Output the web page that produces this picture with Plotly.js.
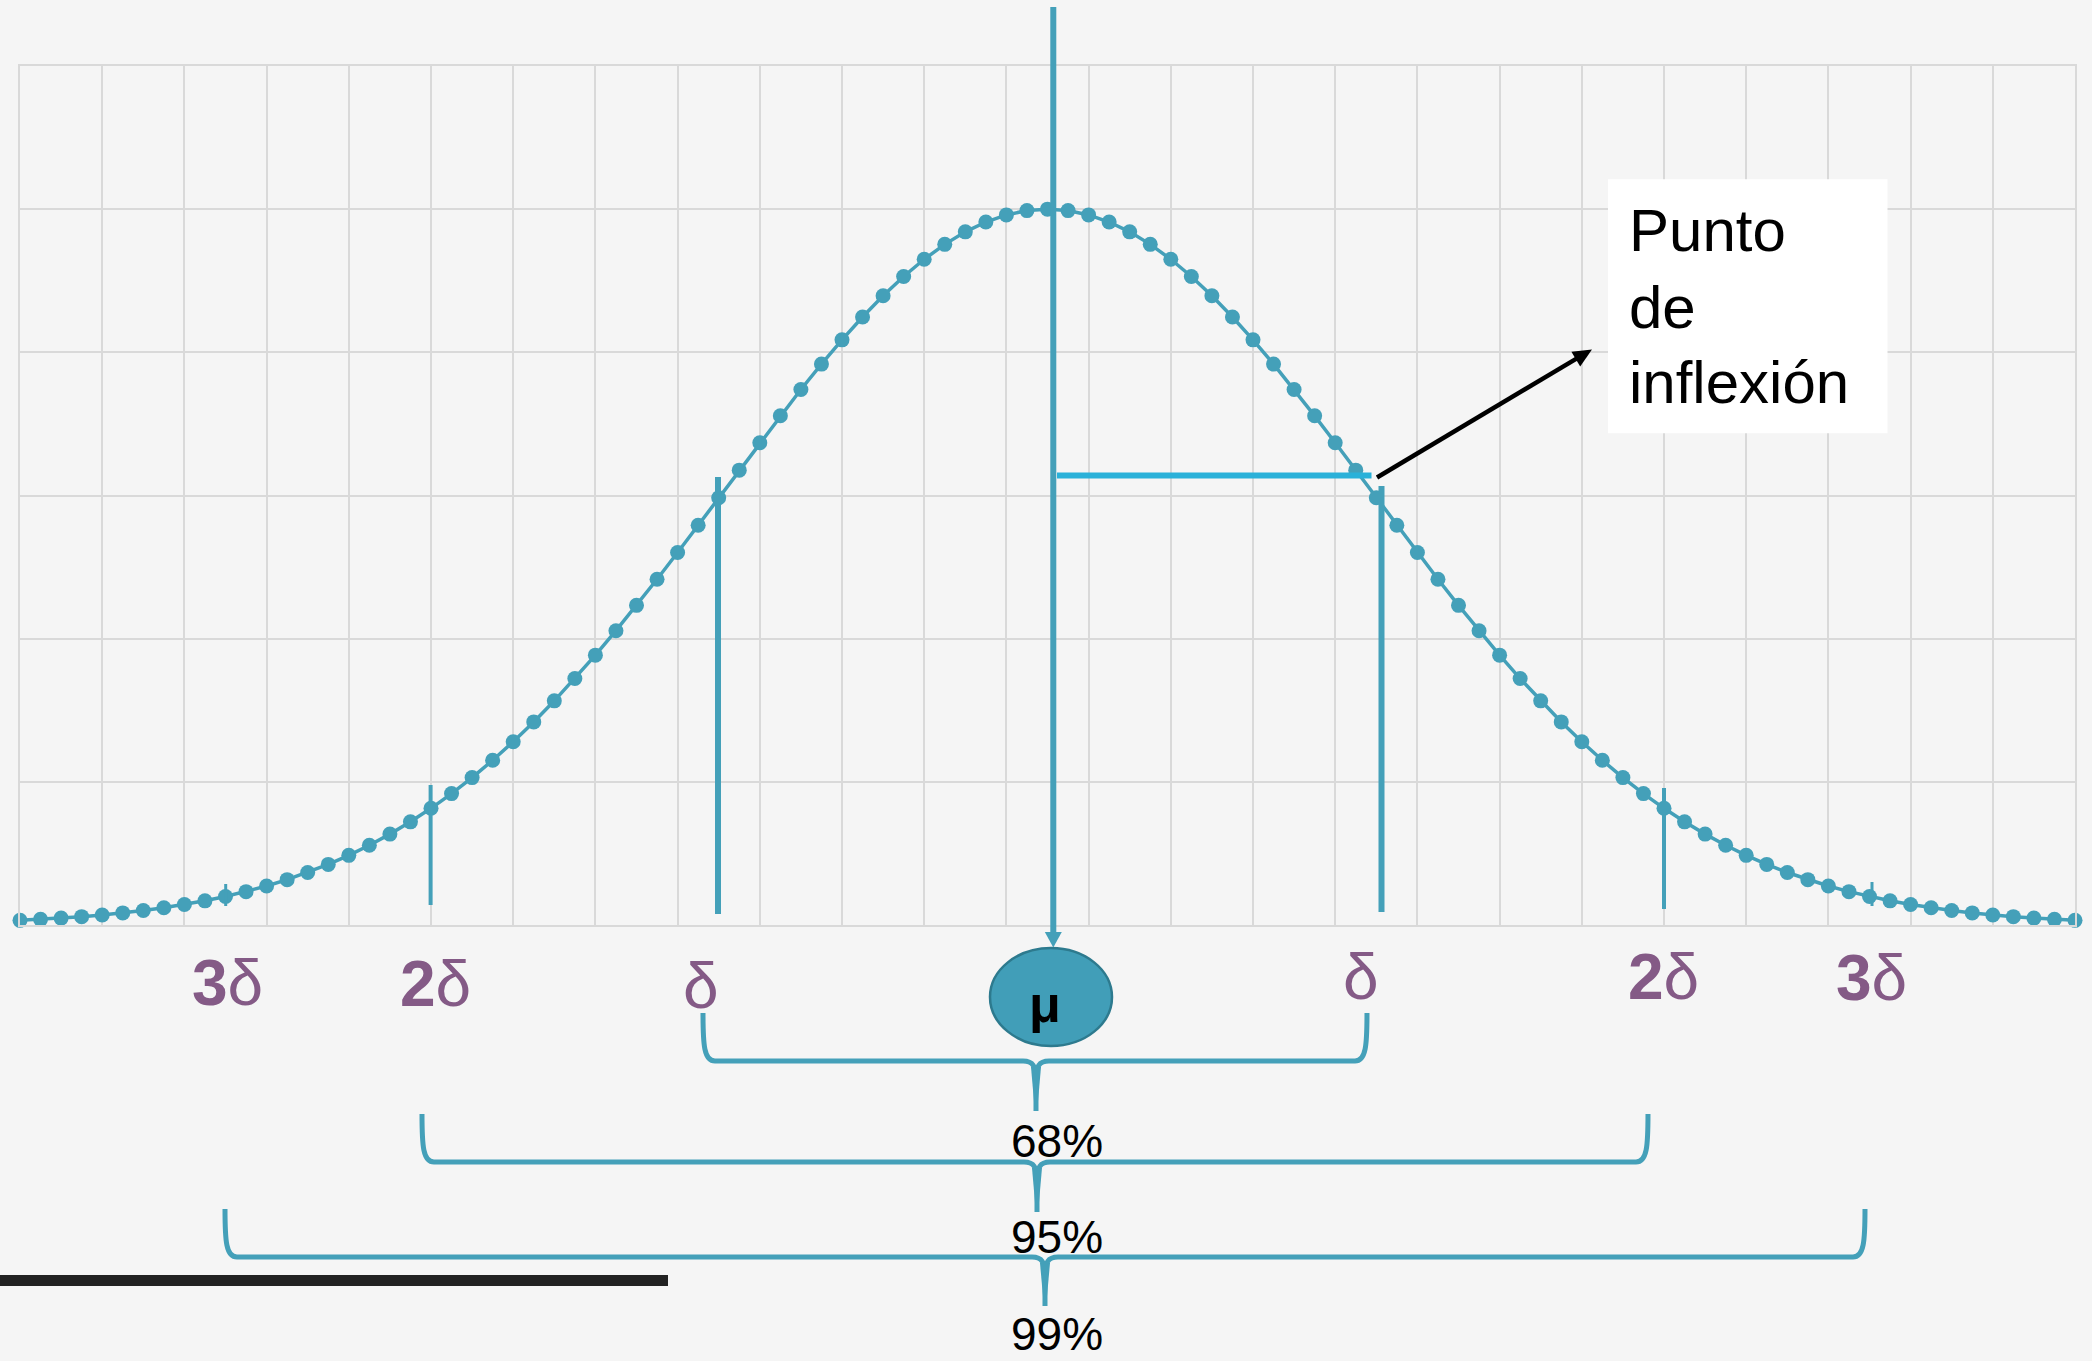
<!DOCTYPE html>
<html>
<head>
<meta charset="utf-8">
<script src="https://cdn.plot.ly/plotly-3.0.1.min.js"></script>
<style>
html,body{margin:0;padding:0;background:#f5f5f5;}
#chart{width:2092px;height:1361px;}
</style>
</head>
<body>
<div id="chart"></div>
<script>
// ---- data ----
const curveX = [0,1,2,3,4,5,6,7,8,9,10,11,12,13,14,15,16,17,18,19,20,21,22,23,24,25,26,27,28,29,30,31,32,33,34,35,36,37,38,39,40,41,42,43,44,45,46,47,48,49,50,51,52,53,54,55,56,57,58,59,60,61,62,63,64,65,66,67,68,69,70,71,72,73,74,75,76,77,78,79,80,81,82,83,84,85,86,87,88,89,90,91,92,93,94,95,96,97,98,99,100];
const curveY = [0.000162,0.000198,0.000241,0.000291,0.000351,0.000422,0.000505,0.000602,0.000714,0.000844,
0.000994,0.001165,0.001361,0.001583,0.001834,0.002116,0.002432,0.002784,0.003174,0.003603,
0.004075,0.004589,0.005148,0.005752,0.006400,0.007093,0.007829,0.008607,0.009425,0.010278,
0.011163,0.012076,0.013011,0.013962,0.014923,0.015885,0.016841,0.017783,0.018702,0.019589,
0.020436,0.021234,0.021974,0.022649,0.023250,0.023771,0.024207,0.024551,0.024799,0.024950,
0.025000,
0.024950,0.024799,0.024551,0.024207,0.023771,0.023250,0.022649,0.021974,0.021234,0.020436,
0.019589,0.018702,0.017783,0.016841,0.015885,0.014923,0.013962,0.013011,0.012076,0.011163,
0.010278,0.009425,0.008607,0.007829,0.007093,0.006400,0.005752,0.005148,0.004589,0.004075,
0.003603,0.003174,0.002784,0.002432,0.002116,0.001834,0.001583,0.001361,0.001165,0.000994,
0.000844,0.000714,0.000602,0.000505,0.000422,0.000351,0.000291,0.000241,0.000198,0.000162];
const sigmaLabels = ['<b>3</b>δ','<b>2</b>δ','δ','δ','<b>2</b>δ','<b>3</b>δ'];
const percentLabels = ['68%','95%','99%'];
const meanLabel = '<b>μ</b>';
const calloutLines = ['Punto','de','inflexión'];

// ---- geometry (pixels) ----
const W = 2092, H = 1361;
const PL = 20, PR = 2075, PT = 66, PB = 925;
function px(x){ return (x - PL) / (PR - PL); }
function py(y){ return (PB - y) / (PB - PT); }
function P(x, y){ return px(x).toFixed(5) + ',' + py(y).toFixed(5); }

const TEAL = '#44a0b9';
const PURPLE = '#845a86';

const shapes = [];
function vline(x, y0, y1, w, color){
  shapes.push({type:'line', xref:'paper', yref:'paper', x0:px(x), x1:px(x), y0:py(y0), y1:py(y1),
    line:{color:color||TEAL, width:w}});
}
// sigma marker lines
vline(718, 477, 914, 6);
vline(1381.5, 486, 912, 6);
vline(430.6, 785, 905, 4);
vline(1664, 788, 909, 4);
vline(225.7, 884, 906, 3);
vline(1872, 882, 906, 3);
// mean line with arrow head
vline(1053.3, 7, 933, 6);
shapes.push({type:'path', xref:'paper', yref:'paper',
  path:'M'+P(1044.8,932)+' L'+P(1061.8,932)+' L'+P(1053.3,947.5)+' Z',
  fillcolor:TEAL, line:{width:0}});
// inflection horizontal line
shapes.push({type:'line', xref:'paper', yref:'paper', x0:px(1057), x1:px(1371.5), y0:py(475.4), y1:py(475.4),
  line:{color:'#2ab1d9', width:6}});
// black arrow
shapes.push({type:'line', xref:'paper', yref:'paper', x0:px(1377), y0:py(477.5), x1:px(1576.5), y1:py(358.6),
  line:{color:'#000000', width:4.5}});
shapes.push({type:'path', xref:'paper', yref:'paper',
  path:'M'+P(1592,349.4)+' L'+P(1580.2,366.4)+' L'+P(1571.4,351.8)+' Z',
  fillcolor:'#000000', line:{width:0}});
// callout box
shapes.push({type:'rect', xref:'paper', yref:'paper', x0:px(1608), x1:px(1887.5), y0:py(179.3), y1:py(433.3),
  fillcolor:'#ffffff', line:{width:0}});
// mean ellipse
shapes.push({type:'circle', xref:'paper', yref:'paper', x0:px(990), x1:px(1112), y0:py(948), y1:py(1046),
  fillcolor:'#419eb8', line:{color:'#2d7a8e', width:2.5}});
// braces
function brace(xl, xr, xc, yt, yh, ytip){
  const r = 12;
  const p = 'M'+P(xl,yt)+' C'+P(xl,yh-16)+' '+P(xl+1,yh)+' '+P(xl+r,yh)+
    ' L'+P(xc-13,yh)+' C'+P(xc-3,yh)+' '+P(xc,yh+5)+' '+P(xc,yh+20)+
    ' L'+P(xc,ytip)+
    ' M'+P(xc,yh+20)+' C'+P(xc,yh+5)+' '+P(xc+3,yh)+' '+P(xc+13,yh)+
    ' L'+P(xr-r,yh)+' C'+P(xr-1,yh)+' '+P(xr,yh-16)+' '+P(xr,yt);
  shapes.push({type:'path', xref:'paper', yref:'paper', path:p, line:{color:TEAL, width:5}});
  shapes.push({type:'path', xref:'paper', yref:'paper',
    path:'M'+P(xc-5,yh+6)+' L'+P(xc+5,yh+6)+' L'+P(xc+1.5,ytip-4)+' L'+P(xc-1.5,ytip-4)+' Z',
    fillcolor:TEAL, line:{width:0}});
}
brace(703, 1367, 1036, 1013, 1061, 1111);
brace(422, 1648, 1037, 1114, 1162, 1212);
brace(225, 1865, 1045, 1209, 1257, 1306);
// black bar bottom-left
shapes.push({type:'rect', xref:'paper', yref:'paper', x0:px(0), x1:px(668), y0:py(1275), y1:py(1286),
  fillcolor:'#222222', line:{width:0}});

// ---- annotations ----
const annotations = [];
const sigmaX = [227, 435.5, 701, 1361, 1663, 1871];
const sigmaY = [983, 984, 986.5, 976.5, 976.5, 978];
sigmaLabels.forEach(function(t, i){
  annotations.push({xref:'paper', yref:'paper', x:px(sigmaX[i]), y:py(sigmaY[i]), text:t, showarrow:false,
    xanchor:'center', yanchor:'middle', font:{family:'Liberation Sans, Arial, sans-serif', size:64, color:PURPLE}});
});
const pctY = [1140.8, 1237.4, 1334];
percentLabels.forEach(function(t, i){
  annotations.push({xref:'paper', yref:'paper', x:px(1056.5), y:py(pctY[i]), text:t, showarrow:false, borderpad:0,
    xanchor:'center', yanchor:'middle', font:{family:'Liberation Sans, Arial, sans-serif', size:46, color:'#000000'}});
});
annotations.push({xref:'paper', yref:'paper', x:px(1044.5), y:py(1004), text:meanLabel, showarrow:false,
  xanchor:'center', yanchor:'middle', font:{family:'Liberation Sans, Arial, sans-serif', size:52, color:'#000000'}});
const calloutY = [230.2, 307.5, 382.5];
calloutLines.forEach(function(t, i){
  annotations.push({xref:'paper', yref:'paper', x:px(1627), y:py(calloutY[i]), text:t, showarrow:false,
    xanchor:'left', yanchor:'middle', font:{family:'Liberation Sans, Arial, sans-serif', size:60, color:'#000000'}});
});

const trace = {
  x: curveX, y: curveY, type:'scatter', mode:'lines+markers',
  line:{color:TEAL, width:3.5}, marker:{color:TEAL, size:15},
  cliponaxis:false, hoverinfo:'skip'
};

const layout = {
  width:W, height:H,
  margin:{l:PL, r:W-PR, t:PT, b:H-PB, pad:0},
  paper_bgcolor:'#f5f5f5', plot_bgcolor:'#f5f5f5',
  showlegend:false,
  xaxis:{range:[0,100], dtick:4, tick0:0, showgrid:true, gridcolor:'#d9d9d9', gridwidth:2,
    showticklabels:false, ticks:'', zeroline:false, showline:true, mirror:true, linecolor:'#d9d9d9', linewidth:2},
  yaxis:{range:[0,0.03], dtick:0.005, tick0:0, showgrid:true, gridcolor:'#d9d9d9', gridwidth:2,
    showticklabels:false, ticks:'', zeroline:false, showline:true, mirror:true, linecolor:'#d9d9d9', linewidth:2},
  shapes:shapes,
  annotations:annotations
};

Plotly.newPlot('chart', [trace], layout, {displayModeBar:false, staticPlot:true});
</script>
</body>
</html>
